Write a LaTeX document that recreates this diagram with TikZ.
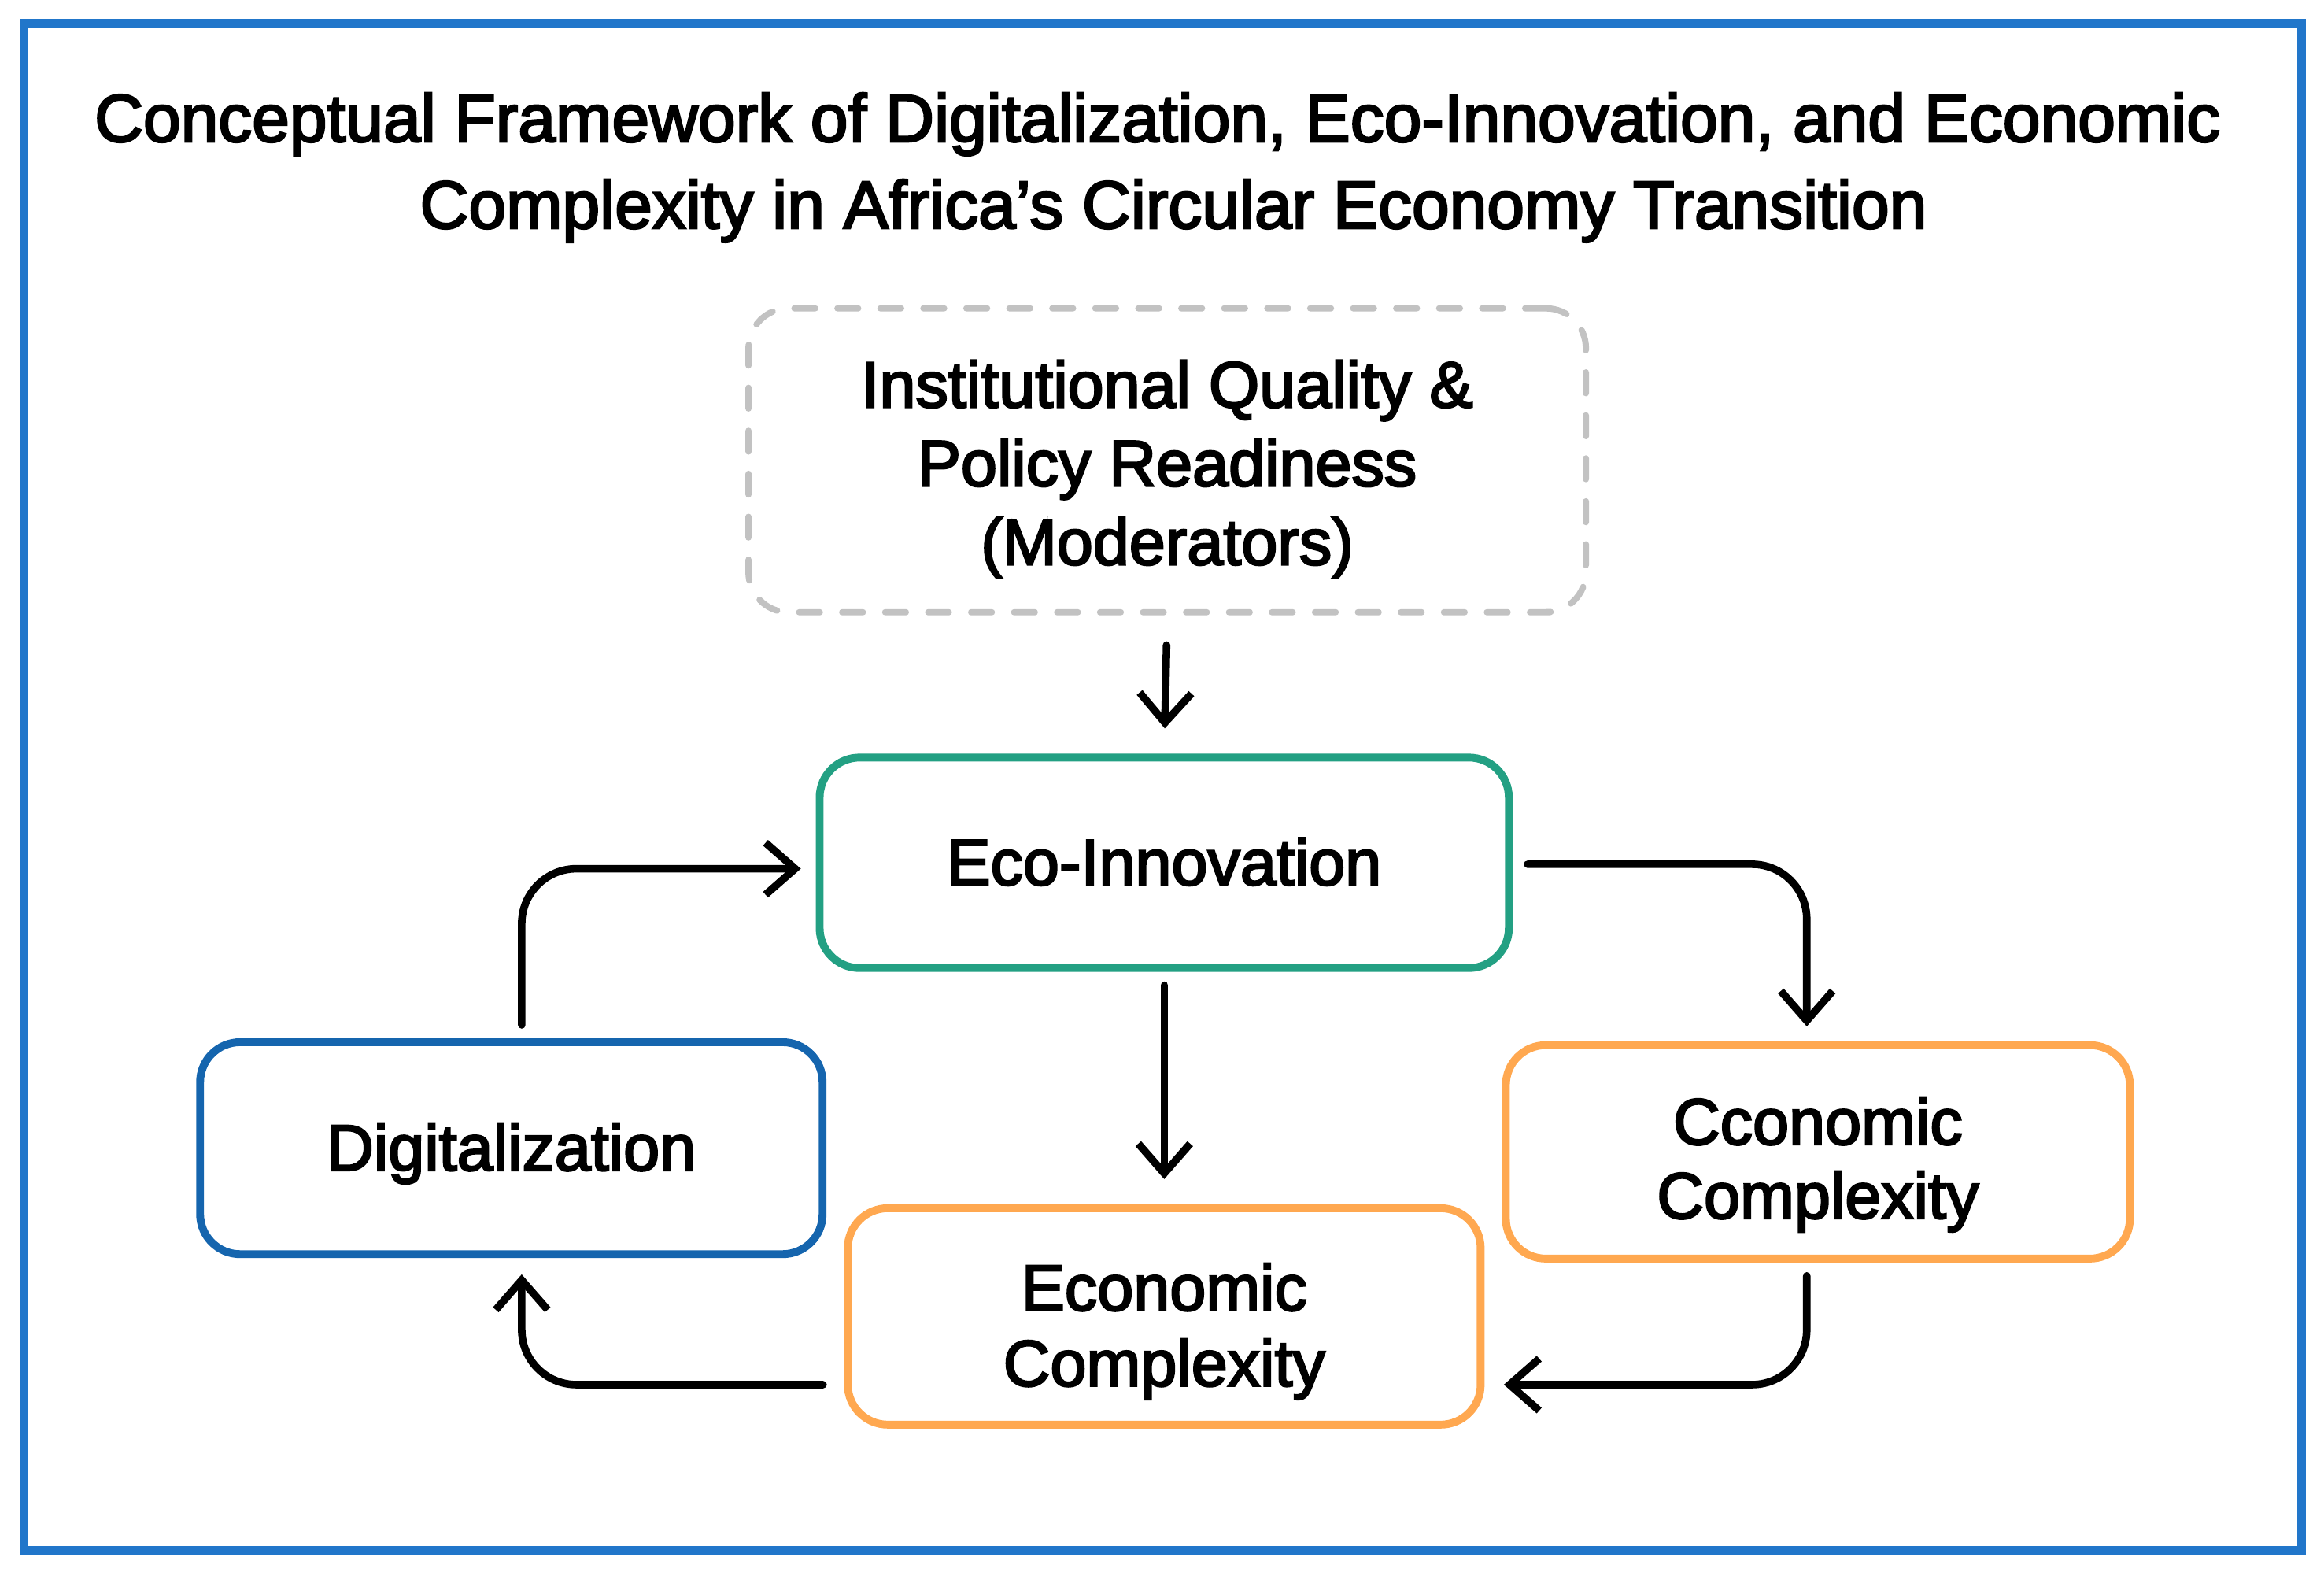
\documentclass[tikz,border=0pt]{standalone}
\usepackage{fontspec}
\setmainfont{Liberation Sans}[FakeBold=3]
\usetikzlibrary{positioning,calc,arrows.meta}
\definecolor{frameblue}{HTML}{2176CA}
\definecolor{digblue}{HTML}{1565AE}
\definecolor{ecoteal}{HTML}{23A083}
\definecolor{cxorange}{HTML}{FFA850}
\definecolor{modgray}{HTML}{C2C2C2}
\newcommand{\boxstrut}[1]{\rule{0pt}{#1}}
\tikzset{>={Straight Barb[length=2mm,width=3.5mm]}}
\tikzset{
  box/.style={rounded corners=2.7mm,line width=1.5pt,align=center,inner sep=0pt,
    font=\fontsize{12.5}{14.4}\selectfont},
  oneline/.style={text height=0.31cm,text depth=0.01cm},
  link/.style={->,line width=1.45pt,line cap=round,rounded corners=3.7mm}
}

\begin{document}
\begin{tikzpicture}
\useasboundingbox (0,0) rectangle (15.68,10.60);
\draw[frameblue,line width=1.7pt] (0.16,0.14) rectangle (15.53,10.44);
\node[anchor=base,font=\fontsize{12.95}{16}\selectfont] (title) at (7.81,9.644)
  {Conceptual Framework of Digitalization, Eco-Innovation, and Economic};
\node[anchor=base,font=\fontsize{12.95}{16}\selectfont] (subtitle) at (7.917,9.06)
  {Complexity in Africa’s Circular Economy Transition};
\node[box,draw=modgray,dashed,dash pattern=on 1.4mm off 1.5mm,line cap=round,line width=1.2pt,
  minimum width=5.65cm,minimum height=2.05cm,font=\fontsize{12.5}{15.1}\selectfont] (mod) at (7.875,7.495)
  {\boxstrut{4.38mm}Institutional Quality \&\\Policy Readiness\\(Moderators)};
\node[box,oneline,draw=ecoteal,minimum width=4.65cm,minimum height=1.42cm] (eco) at (7.855,4.78) {Eco-Innovation};
\node[box,oneline,draw=digblue,minimum width=4.20cm,minimum height=1.43cm] (dig) at (3.45,2.855) {Digitalization};
\node[box,draw=cxorange,minimum width=4.21cm,minimum height=1.44cm,font=\fontsize{12.5}{14.2}\selectfont] (cxr) at (12.265,2.83)
  {\boxstrut{4.9mm}Cconomic\\Complexity};
\node[box,draw=cxorange,minimum width=4.27cm,minimum height=1.46cm,font=\fontsize{12.5}{14.5}\selectfont] (cxb) at (7.855,1.72)
  {\boxstrut{5.2mm}Economic\\Complexity};
\draw[link,shorten <=2mm,shorten >=1.7mm] (mod.south) -- (eco.north);
\draw[link,shorten <=0.9mm,shorten >=1.7mm] (eco.south) -- (cxb.north);
\draw[link,shorten <=0.9mm,shorten >=1mm] ([xshift=0.7mm]dig.north) |- ([yshift=-0.4mm]eco.west);
\draw[link,shorten <=1mm,shorten >=1mm] ([yshift=-0.1mm]eco.east) -| ([xshift=-0.75mm]cxr.north);
\draw[link,shorten <=0.9mm,shorten >=1.3mm] ([xshift=-0.75mm]cxr.south) |- ([yshift=-4.6mm]cxb.east);
\draw[link,shorten <=1.4mm,shorten >=1.1mm] ([yshift=-4.6mm]cxb.west) -| ([xshift=0.7mm]dig.south);
\end{tikzpicture}
\end{document}
